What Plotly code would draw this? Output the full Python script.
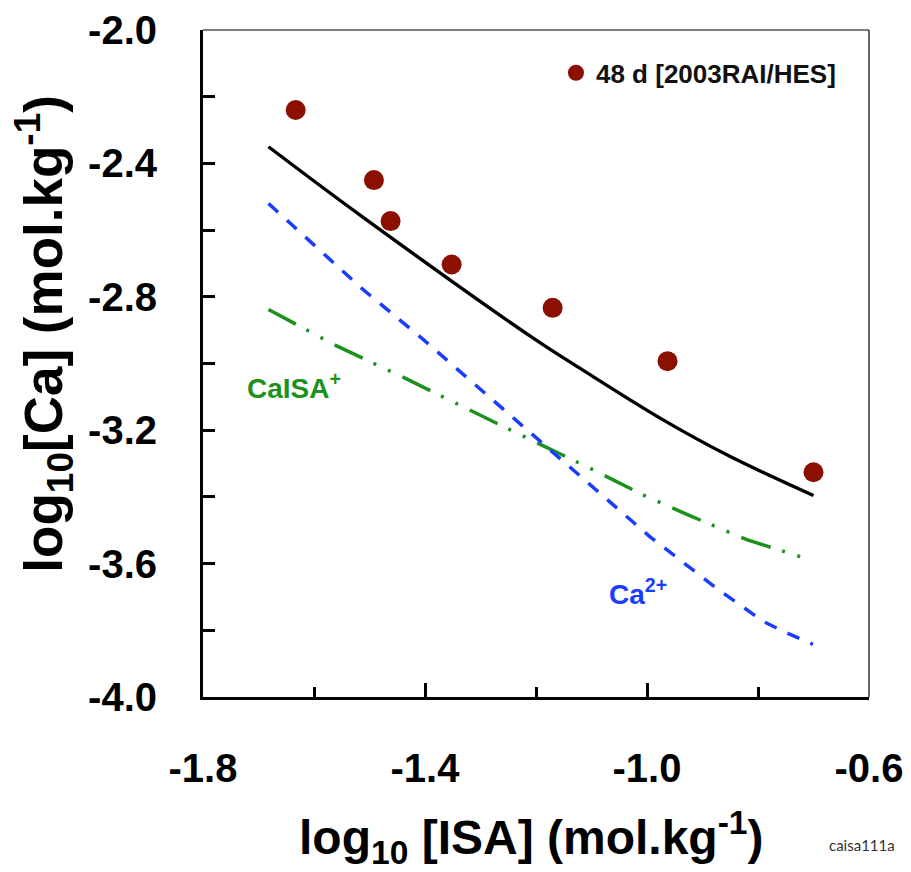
import plotly.graph_objects as go

# Measured total calcium, 48 d equilibration [2003RAI/HES]
isa_obs = [-1.633, -1.492, -1.462, -1.352, -1.170, -0.963, -0.700]
ca_obs = [-2.240, -2.450, -2.573, -2.703, -2.833, -2.993, -3.326]

# Model: total dissolved Ca
isa_total = [-1.682, -1.517, -1.205, -1.121, -0.971, -0.850, -0.700]
ca_total = [-2.350, -2.555, -2.924, -3.014, -3.169, -3.279, -3.396]

# Model: free Ca2+
isa_free = [-1.682, -1.514, -1.406, -1.151, -1.079, -0.995, -0.873, -0.831, -0.790, -0.744, -0.701]
ca_free = [-2.520, -2.775, -2.924, -3.294, -3.399, -3.519, -3.676, -3.727, -3.774, -3.811, -3.842]

# Model: CaISA+ complex
isa_cplx = [-1.682, -1.562, -1.436, -1.270, -1.104, -1.007, -0.926, -0.819, -0.709]
ca_cplx = [-2.838, -2.945, -3.044, -3.180, -3.313, -3.394, -3.454, -3.529, -3.587]

# Axis ranges and labelled ticks (hyphen-minus labels)
x_range = [-1.8, -0.6]
y_range = [-4.0, -2.0]
x_tickvals = [-1.8, -1.4, -1.0, -0.6]
x_ticktext = ["-1.8", "-1.4", "-1.0", "-0.6"]
y_tickvals = [-2.0, -2.4, -2.8, -3.2, -3.6, -4.0]
y_ticktext = ["-2.0", "-2.4", "-2.8", "-3.2", "-3.6", "-4.0"]

FONT = "Liberation Sans, Arial, sans-serif"
RED = "#8b1000"
BLUE = "#1a3cff"
GREEN = "#1c921c"

fig = go.Figure()

fig.add_trace(go.Scatter(
    x=isa_cplx, y=ca_cplx, mode="lines", showlegend=False,
    line=dict(color=GREEN, width=3.5, dash="31px,12px,3px,13px,3px,13px"),
))
fig.add_trace(go.Scatter(
    x=isa_free, y=ca_free, mode="lines", showlegend=False,
    line=dict(color=BLUE, width=3.5, dash="13px,12px"),
))
fig.add_trace(go.Scatter(
    x=isa_total, y=ca_total, mode="lines", showlegend=False,
    line=dict(color="black", width=3.4, shape="spline"),
))
fig.add_trace(go.Scatter(
    x=isa_obs, y=ca_obs, mode="markers", name="48 d [2003RAI/HES]",
    marker=dict(color=RED, size=20, line=dict(width=0)),
))

axis_common = dict(
    showline=True, linecolor="black", linewidth=3,
    ticks="inside", tickcolor="black", tickwidth=2.5,
    showgrid=False, zeroline=False, automargin=False,
    tickfont=dict(family=FONT, size=40, color="black", weight="bold"),
)

fig.update_layout(
    width=911, height=872,
    margin=dict(l=203, r=42, t=30, b=175, autoexpand=False),
    paper_bgcolor="white", plot_bgcolor="white",
    xaxis=dict(
        range=x_range, tickmode="array", tickvals=x_tickvals, ticktext=x_ticktext,
        ticklen=14, ticklabelstandoff=34, ticklabeloverflow="allow",
        minor=dict(dtick=0.2, tick0=-1.8, ticks="inside", ticklen=10,
                   tickcolor="black", tickwidth=2.5),
        **axis_common,
    ),
    yaxis=dict(
        range=y_range, tickmode="array", tickvals=y_tickvals, ticktext=y_ticktext,
        ticklen=12, ticklabelstandoff=35, ticklabeloverflow="allow",
        minor=dict(dtick=0.2, tick0=-2.0, ticks="inside", ticklen=12,
                   tickcolor="black", tickwidth=2.5),
        **axis_common,
    ),
    legend=dict(
        x=0.53, y=0.971, xanchor="left", yanchor="top",
        bgcolor="rgba(0,0,0,0)", borderwidth=0,
        font=dict(family=FONT, size=26, color="#111", weight="bold"),
        itemsizing="trace",
    ),
    showlegend=True,
)

# thin frame on top and right
fig.add_shape(type="line", xref="paper", yref="paper", x0=0, x1=1, y0=1, y1=1,
              line=dict(color="#555", width=1.5))
fig.add_shape(type="line", xref="paper", yref="paper", x0=1, x1=1, y0=0, y1=1,
              line=dict(color="#333", width=1.5))

fig.add_annotation(
    x=-1.724, y=-3.067, xref="x", yref="y", xanchor="left", yanchor="middle",
    text="CaISA<sup>+</sup>", showarrow=False,
    font=dict(family=FONT, size=28, color=GREEN, weight="bold"),
)
fig.add_annotation(
    x=-1.072, y=-3.685, xref="x", yref="y", xanchor="left", yanchor="middle",
    text="Ca<sup>2+</sup>", showarrow=False,
    font=dict(family=FONT, size=28, color=BLUE, weight="bold"),
)

# axis titles
fig.add_annotation(
    x=0.4925, y=-0.21, xref="paper", yref="paper", xanchor="center", yanchor="middle",
    text="log<sub>10</sub> [ISA] (mol.kg<sup>-1</sup>)", showarrow=False,
    font=dict(family=FONT, size=48, color="black", weight="bold"),
)
fig.add_annotation(
    x=-0.24, y=0.545, xref="paper", yref="paper", xanchor="center", yanchor="middle",
    text="log<sub>10</sub>[Ca] (mol.kg<sup>-1</sup>)", showarrow=False, textangle=-90,
    font=dict(family=FONT, size=53, color="black", weight="bold"),
)
fig.add_annotation(
    x=0.99, y=-0.222, xref="paper", yref="paper", xanchor="center", yanchor="middle",
    text="caisa111a", showarrow=False,
    font=dict(family="Lato, sans-serif", size=15, color="#333"),
)

fig.write_html("out.html")
